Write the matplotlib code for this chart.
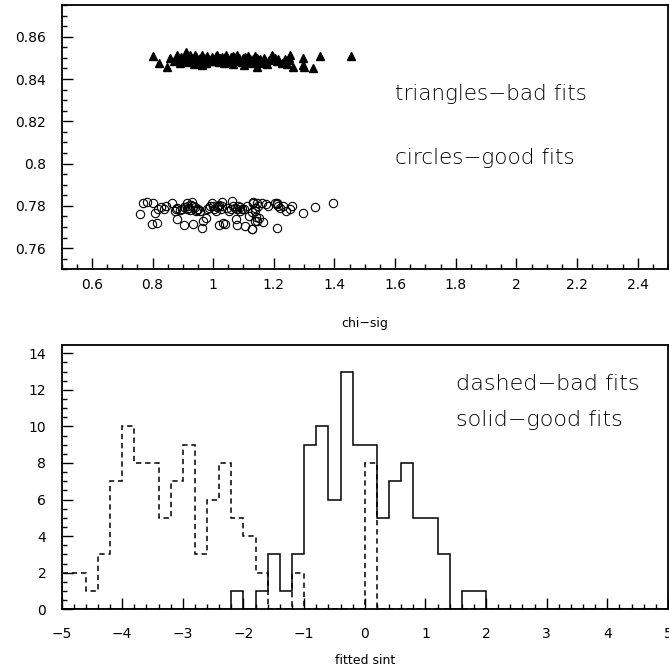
import numpy as np
import matplotlib
matplotlib.use("Agg")
import matplotlib.pyplot as plt
from matplotlib.ticker import MultipleLocator, FuncFormatter

# top panel: chi-sig vs fitted value, bad fits (triangles)
bad_chi = [0.803, 0.823, 0.847, 0.858, 0.880, 0.889, 0.899, 0.910, 0.915, 0.924,
           0.929, 0.940, 0.946, 0.954, 0.962, 0.970, 0.979, 0.987, 0.995, 1.003,
           1.014, 1.020, 1.028, 1.036, 1.042, 1.050, 1.058, 1.064, 1.072, 1.080,
           1.086, 1.094, 1.102, 1.108, 1.116, 1.124, 1.132, 1.138, 1.143, 1.152,
           1.160, 1.168, 1.176, 1.193, 1.204, 1.215, 1.237, 1.226, 1.248, 1.253,
           1.262, 1.297, 1.295, 1.330, 1.352, 1.453, 0.905, 0.918, 0.932, 0.938,
           0.950, 0.958, 0.966, 0.975, 0.983, 0.992, 1.000, 1.008, 1.018, 1.024,
           1.032, 1.046, 1.054, 1.062, 1.070, 1.078, 1.090, 1.098, 1.112, 1.120,
           1.128, 1.146, 1.156, 1.172, 1.185, 1.210, 1.245, 1.250, 0.870, 0.885,
           0.895, 0.912, 0.925, 0.945, 0.962, 1.010, 1.040, 1.066, 1.104, 1.300]
bad_val = [0.8509, 0.8477, 0.8457, 0.8499, 0.8515, 0.8477, 0.8493, 0.8528, 0.8504, 0.8484,
           0.8499, 0.8512, 0.8477, 0.8493, 0.8465, 0.8499, 0.8509, 0.8488, 0.8504, 0.8484,
           0.8515, 0.8493, 0.8504, 0.8477, 0.8515, 0.8488, 0.8504, 0.8473, 0.8493, 0.8512,
           0.8499, 0.8480, 0.8465, 0.8493, 0.8509, 0.8477, 0.8496, 0.8509, 0.8457, 0.8488,
           0.8477, 0.8499, 0.8473, 0.8515, 0.8499, 0.8493, 0.8496, 0.8477, 0.8488, 0.8515,
           0.8457, 0.8499, 0.8465, 0.8452, 0.8510, 0.8509, 0.8490, 0.8480, 0.8488, 0.8470,
           0.8482, 0.8500, 0.8488, 0.8478, 0.8495, 0.8485, 0.8497, 0.8490, 0.8480, 0.8498,
           0.8487, 0.8495, 0.8480, 0.8492, 0.8502, 0.8485, 0.8492, 0.8500, 0.8482, 0.8495,
           0.8486, 0.8500, 0.8497, 0.8486, 0.8490, 0.8485, 0.8470, 0.8500, 0.8485, 0.8495,
           0.8505, 0.8500, 0.8512, 0.8505, 0.8512, 0.8508, 0.8505, 0.8510, 0.8505, 0.8458]

# good fits (circles)
good_chi = [0.759, 0.768, 0.783, 0.803, 0.797, 0.814, 0.808, 0.819, 0.827, 0.838,
            0.845, 0.863, 0.874, 0.880, 0.889, 0.896, 0.904, 0.913, 0.913, 0.918,
            0.924, 0.929, 0.935, 0.943, 0.951, 0.957, 0.935, 0.962, 0.968, 0.976,
            0.981, 0.990, 0.995, 1.003, 1.009, 1.017, 1.020, 1.025, 1.028, 1.034,
            1.039, 1.045, 1.053, 1.061, 1.067, 1.075, 1.078, 1.083, 1.089, 1.094,
            1.102, 1.105, 1.111, 1.119, 1.127, 1.133, 1.138, 1.144, 1.149, 1.132,
            1.138, 1.146, 1.160, 1.174, 1.182, 1.204, 1.212, 1.220, 1.231, 1.240,
            1.253, 1.259, 1.297, 1.336, 1.394, 1.127, 1.141, 1.152, 1.165, 1.138,
            1.127, 1.212, 0.905, 0.920, 0.928, 0.940, 0.948, 0.985, 0.998, 1.012,
            1.020, 1.030, 1.060, 1.072, 1.080, 1.090, 1.210, 1.215, 0.876, 0.882]
good_val = [0.7760, 0.7812, 0.7819, 0.7812, 0.7713, 0.7721, 0.7768, 0.7784, 0.7797, 0.7787,
            0.7800, 0.7812, 0.7776, 0.7740, 0.7781, 0.7784, 0.7708, 0.7815, 0.7784, 0.7800,
            0.7781, 0.7819, 0.7800, 0.7776, 0.7787, 0.7776, 0.7713, 0.7697, 0.7729, 0.7745,
            0.7784, 0.7800, 0.7812, 0.7787, 0.7776, 0.7800, 0.7708, 0.7784, 0.7819, 0.7721,
            0.7713, 0.7792, 0.7776, 0.7823, 0.7800, 0.7737, 0.7708, 0.7800, 0.7776, 0.7787,
            0.7784, 0.7705, 0.7800, 0.7752, 0.7689, 0.7815, 0.7776, 0.7729, 0.7800, 0.7819,
            0.7792, 0.7812, 0.7812, 0.7808, 0.7800, 0.7812, 0.7808, 0.7792, 0.7800, 0.7776,
            0.7784, 0.7800, 0.7765, 0.7797, 0.7815, 0.7771, 0.7749, 0.7745, 0.7724, 0.7729,
            0.7689, 0.7697, 0.7795, 0.7790, 0.7805, 0.7795, 0.7780, 0.7790, 0.7800, 0.7795,
            0.7805, 0.7798, 0.7785, 0.7790, 0.7785, 0.7795, 0.7815, 0.7800, 0.7785, 0.7790]

# bottom panel: histograms of fitted sint, 50 bins from -5 to 5
bin_lo, bin_hi, n_bins = -5.0, 5.0, 50
bad_counts = [2, 2, 1, 3, 7, 10, 8, 8, 5, 7, 9, 3, 6, 8, 5, 4, 2, 0, 0, 2,
              0, 0, 0, 0, 0, 8, 0, 0, 0, 0, 0, 0, 0, 0, 0, 0, 0, 0, 0, 0,
              0, 0, 0, 0, 0, 0, 0, 0, 0, 0]
good_counts = [0, 0, 0, 0, 0, 0, 0, 0, 0, 0, 0, 0, 0, 0, 1, 0, 1, 3, 1, 3,
               9, 10, 6, 13, 9, 9, 5, 7, 8, 5, 5, 3, 0, 1, 1, 0, 0, 0, 0, 0,
               0, 0, 0, 0, 0, 0, 0, 0, 0, 0]

MINUS = "\u2212"
fmt = FuncFormatter(lambda v, p: f"{v:g}".replace("-", MINUS))

plt.rcParams["font.family"] = ["DejaVu Sans"]
fig = plt.figure(figsize=(6.69, 6.70), dpi=100)
ax1 = fig.add_axes([0.092, 0.598, 0.9065, 0.3945])
ax2 = fig.add_axes([0.092, 0.0906, 0.9065, 0.3945])


def paw_style(ax):
    for s in ax.spines.values():
        s.set_linewidth(1.3)
    ax.tick_params(which="both", direction="in", top=False, right=False,
                   width=1.0, labelsize=10)
    ax.tick_params(which="major", length=8)
    ax.tick_params(which="minor", length=3.5)
    ax.tick_params(axis="y", pad=11)
    ax.tick_params(axis="x", pad=6)
    ax.xaxis.set_major_formatter(fmt)
    ax.yaxis.set_major_formatter(fmt)


# top panel
ax1.plot(bad_chi, bad_val, "^", color="black", ms=5.5, mec="black", lw=0)
ax1.plot(good_chi, good_val, "o", mfc="none", mec="black", ms=6, mew=0.8, lw=0)
ax1.set_xlim(0.5, 2.5)
ax1.set_ylim(0.75, 0.875)
ax1.xaxis.set_major_locator(MultipleLocator(0.2))
ax1.xaxis.set_minor_locator(MultipleLocator(0.05))
ax1.yaxis.set_major_locator(MultipleLocator(0.02))
ax1.yaxis.set_minor_locator(MultipleLocator(0.005))
paw_style(ax1)
ax1.set_xlabel(f"chi{MINUS}sig", fontsize=9, labelpad=18)
ax1.text(1.6, 0.83, f"triangles{MINUS}bad fits", fontsize=15.5, fontweight="light")
ax1.text(1.6, 0.80, f"circles{MINUS}good fits", fontsize=15.5, fontweight="light")

# bottom panel
edges = np.linspace(bin_lo, bin_hi, n_bins + 1)
ax2.stairs(bad_counts, edges, color="black", lw=1.1, linestyle=(0, (3.5, 2.5)))
ax2.stairs(good_counts, edges, color="black", lw=1.1)
ax2.set_xlim(bin_lo, bin_hi)
ax2.set_ylim(0, 14.45)
ax2.xaxis.set_major_locator(MultipleLocator(1))
ax2.xaxis.set_minor_locator(MultipleLocator(0.2))
ax2.yaxis.set_major_locator(MultipleLocator(2))
ax2.yaxis.set_minor_locator(MultipleLocator(0.5))
paw_style(ax2)
ax2.tick_params(axis="x", pad=13)
ax2.set_xlabel("fitted sint", fontsize=9, labelpad=9)
ax2.text(1.5, 12, f"dashed{MINUS}bad fits", fontsize=16, fontweight="light")
ax2.text(1.5, 10, f"solid{MINUS}good fits", fontsize=16, fontweight="light")

fig.savefig("out.png", dpi=100)
